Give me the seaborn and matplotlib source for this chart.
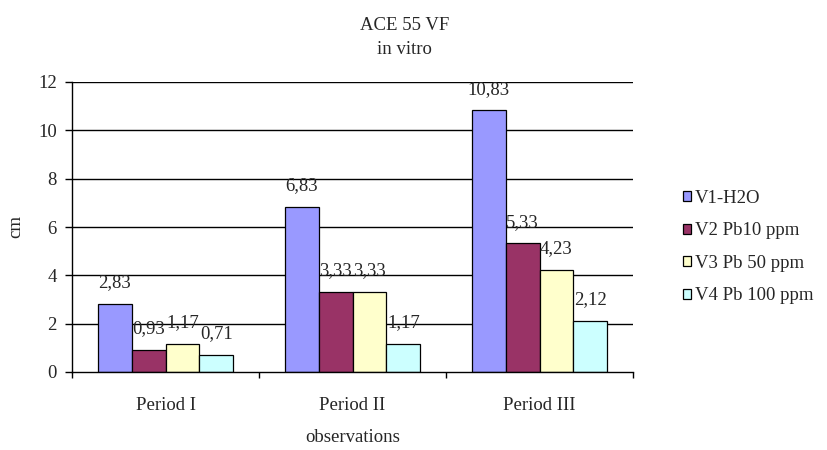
import matplotlib
matplotlib.use("Agg")
import matplotlib.pyplot as plt
import seaborn as sns
import pandas as pd
import numpy as np
from matplotlib.patches import Patch

categories = ["Period I", "Period II", "Period III"]
series = ["V1-H2O", "V2 Pb10 ppm", "V3 Pb 50 ppm", "V4 Pb 100 ppm"]
v1 = [2.83, 6.83, 10.83]
v2 = [0.93, 3.33, 5.33]
v3 = [1.17, 3.33, 4.23]
v4 = [0.71, 1.17, 2.12]
colors = ["#9999FF", "#993366", "#FFFFCC", "#CCFFFF"]

rows = []
for s, vals in zip(series, [v1, v2, v3, v4]):
    for c, v in zip(categories, vals):
        rows.append({"period": c, "series": s, "value": v})
df = pd.DataFrame(rows)

sns.set_style("white")
plt.rcParams["font.family"] = ["Liberation Serif", "DejaVu Serif"]
FS = 13.5
plt.rcParams["font.size"] = FS

fig = plt.figure(figsize=(8.27, 4.5), dpi=100)
L, R, T, B = 72, 633, 82, 372
ax = fig.add_axes([L / 827, 1 - B / 450, (R - L) / 827, (B - T) / 450])

sns.barplot(data=df, x="period", y="value", hue="series", hue_order=series,
            order=categories, palette=colors, edgecolor="black", linewidth=0.9,
            width=0.727, saturation=1, ax=ax, legend=False)

ax.set_ylim(0, 12)
ax.set_xlim(-0.5, 2.5)
ax.set_yticks(np.arange(0, 13, 2))
ax.set_yticklabels([str(t) for t in range(0, 13, 2)], fontsize=FS)
for y in range(2, 13, 2):
    ax.axhline(y, color="black", linewidth=1.0, zorder=0)

for sp in ["top", "right"]:
    ax.spines[sp].set_visible(False)
for sp in ["left", "bottom"]:
    ax.spines[sp].set_color("black")
    ax.spines[sp].set_linewidth(1.0)

ax.tick_params(axis="y", which="major", direction="out", length=5, width=1.0,
               color="black", left=True, pad=6)
ax.set_xticks(range(len(categories)))
ax.set_xticklabels(categories, fontsize=FS)
ax.tick_params(axis="x", which="major", length=0, pad=18)
ax.set_xticks([-0.5, 0.5, 1.5, 2.5], minor=True)
ax.tick_params(axis="x", which="minor", direction="out", length=4.5, width=1.0,
               color="black", bottom=True)

for cont in ax.containers:
    labels = [f"{v:.2f}".replace(".", ",") for v in cont.datavalues]
    ax.bar_label(cont, labels=labels, padding=9, fontsize=FS)

ax.set_ylabel("cm", fontsize=FS, labelpad=10)
ax.set_xlabel("observations", fontsize=FS, labelpad=11)

fig.text(405 / 827, 1 - 25 / 450, "ACE 55 VF", ha="center", va="center", fontsize=FS)
fig.text(404 / 827, 1 - 50 / 450, "in vitro", ha="center", va="center", fontsize=FS)

handles = [Patch(facecolor=c, edgecolor="black", linewidth=0.9) for c in colors]
fig.legend(handles, series, loc="center left", bbox_to_anchor=(683 / 827, 1 - 247 / 450),
           frameon=False, fontsize=FS, handlelength=0.45, handleheight=0.45,
           handletextpad=0.2, labelspacing=0.83, borderaxespad=0, borderpad=0)

fig.savefig("out.png", dpi=100)
